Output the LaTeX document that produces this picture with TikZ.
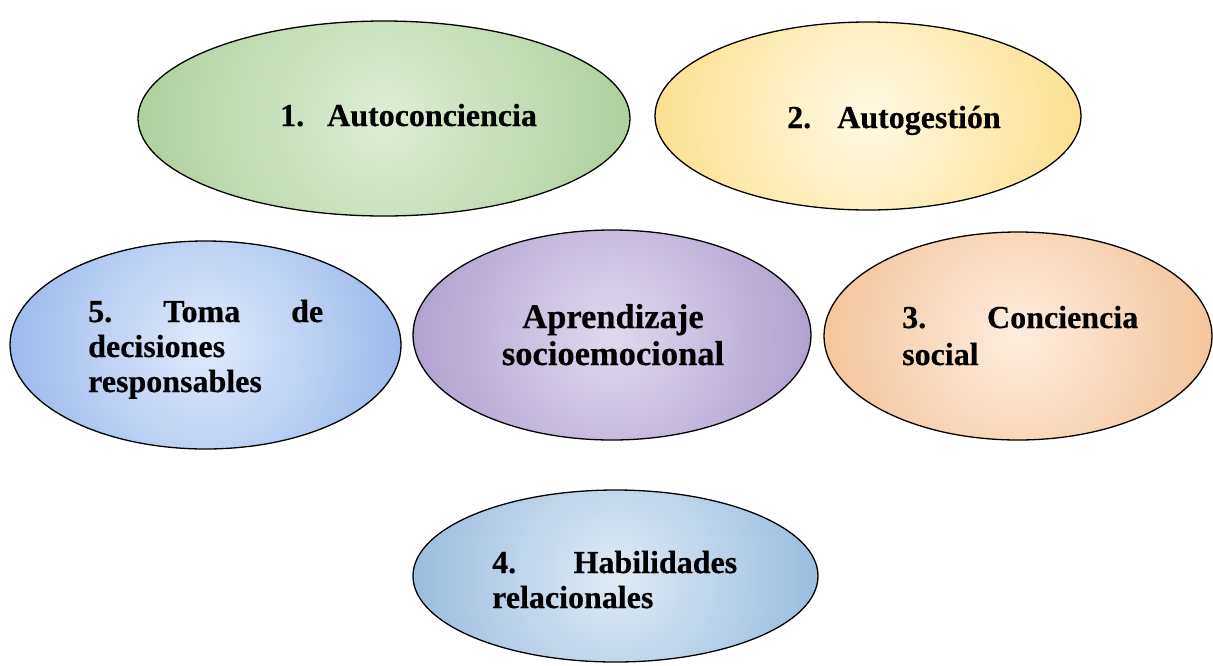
\documentclass[tikz,border=0pt]{standalone}
\usepackage{fontspec}
\setmainfont{Liberation Serif}[BoldFeatures={FakeBold=0.4}]
\usetikzlibrary{shapes.geometric}
\pgfdeclareradialshading{shgreen}{\pgfpoint{0bp}{0bp}}{rgb(0bp)=(0.87,0.93,0.84); rgb(41bp)=(0.57,0.74,0.47); rgb(50bp)=(0.56,0.73,0.46)}
\pgfdeclareradialshading{shyellow}{\pgfpoint{0bp}{0bp}}{rgb(0bp)=(1.0,0.98,0.89); rgb(41bp)=(0.98,0.81,0.36); rgb(50bp)=(0.98,0.80,0.34)}
\pgfdeclareradialshading{shbluefive}{\pgfpoint{0bp}{0bp}}{rgb(0bp)=(0.88,0.92,0.98); rgb(41bp)=(0.44,0.61,0.90); rgb(50bp)=(0.42,0.59,0.89)}
\pgfdeclareradialshading{shpurple}{\pgfpoint{0bp}{0bp}}{rgb(0bp)=(0.88,0.85,0.93); rgb(41bp)=(0.57,0.49,0.74); rgb(50bp)=(0.56,0.48,0.73)}
\pgfdeclareradialshading{shorange}{\pgfpoint{0bp}{0bp}}{rgb(0bp)=(0.99,0.93,0.87); rgb(41bp)=(0.94,0.67,0.44); rgb(50bp)=(0.93,0.66,0.42)}
\pgfdeclareradialshading{shbluefour}{\pgfpoint{0bp}{0bp}}{rgb(0bp)=(0.88,0.92,0.96); rgb(41bp)=(0.42,0.63,0.82); rgb(50bp)=(0.40,0.61,0.81)}
\tikzset{
  blob/.style={ellipse, draw=black, line width=1.3pt, inner sep=0pt},
  lbl/.style={anchor=base west, inner sep=0pt, text=black, font=\fontsize{32}{36}\selectfont\bfseries},
  clbl/.style={lbl, anchor=base, font=\fontsize{34.5}{37}\selectfont\bfseries}
}
\begin{document}
\begin{tikzpicture}[x=1pt,y=-1pt]
\useasboundingbox (0,0) rectangle (1213,665);
% ellipses
\node[blob, minimum width=492pt, minimum height=195pt,
  path picture={\shade[shading=shgreen] (path picture bounding box.center) circle[radius=246pt];}] (e1) at (384,118.5) {};
\node[blob, minimum width=426pt, minimum height=188pt,
  path picture={\shade[shading=shyellow] (path picture bounding box.center) circle[radius=213pt];}] (e2) at (868,116) {};
\node[blob, minimum width=391pt, minimum height=208pt,
  path picture={\shade[shading=shbluefive] (path picture bounding box.center) circle[radius=196pt];}] (e5) at (205.5,345) {};
\node[blob, minimum width=398pt, minimum height=210pt,
  path picture={\shade[shading=shpurple] (path picture bounding box.center) circle[radius=199pt];}] (ea) at (612,335) {};
\node[blob, minimum width=388pt, minimum height=208pt,
  path picture={\shade[shading=shorange] (path picture bounding box.center) circle[radius=194pt];}] (e3) at (1018,336) {};
\node[blob, minimum width=405pt, minimum height=172pt,
  path picture={\shade[shading=shbluefour] (path picture bounding box.center) circle[radius=203pt];}] (e4) at (615.5,576) {};
% labels
\node[lbl] (t1) at (280,126) {\hbox to 47pt{1.\hfil}Autoconciencia};
\node[lbl] (t2) at (787,128) {\hbox to 50pt{2.\hfil}Autogestión};
\node[lbl] (t5) at (88,322) {\vtop{\baselineskip=35pt\hbox to 235pt{5.\hfill Toma\hfill de}\hbox{decisiones}\hbox{responsables}}};
\node[clbl] (ta) at (613,328) {\vtop{\baselineskip=37pt\halign{\hfil#\hfil\cr Aprendizaje\cr socioemocional\cr}}};
\node[lbl] (t3) at (902,328) {\vtop{\baselineskip=37pt\hbox to 236pt{3.\hfill Conciencia}\hbox{social}}};
\node[lbl] (t4) at (492,573) {\vtop{\baselineskip=35pt\hbox to 245pt{4.\hfill Habilidades}\hbox{relacionales}}};
\end{tikzpicture}
\end{document}
